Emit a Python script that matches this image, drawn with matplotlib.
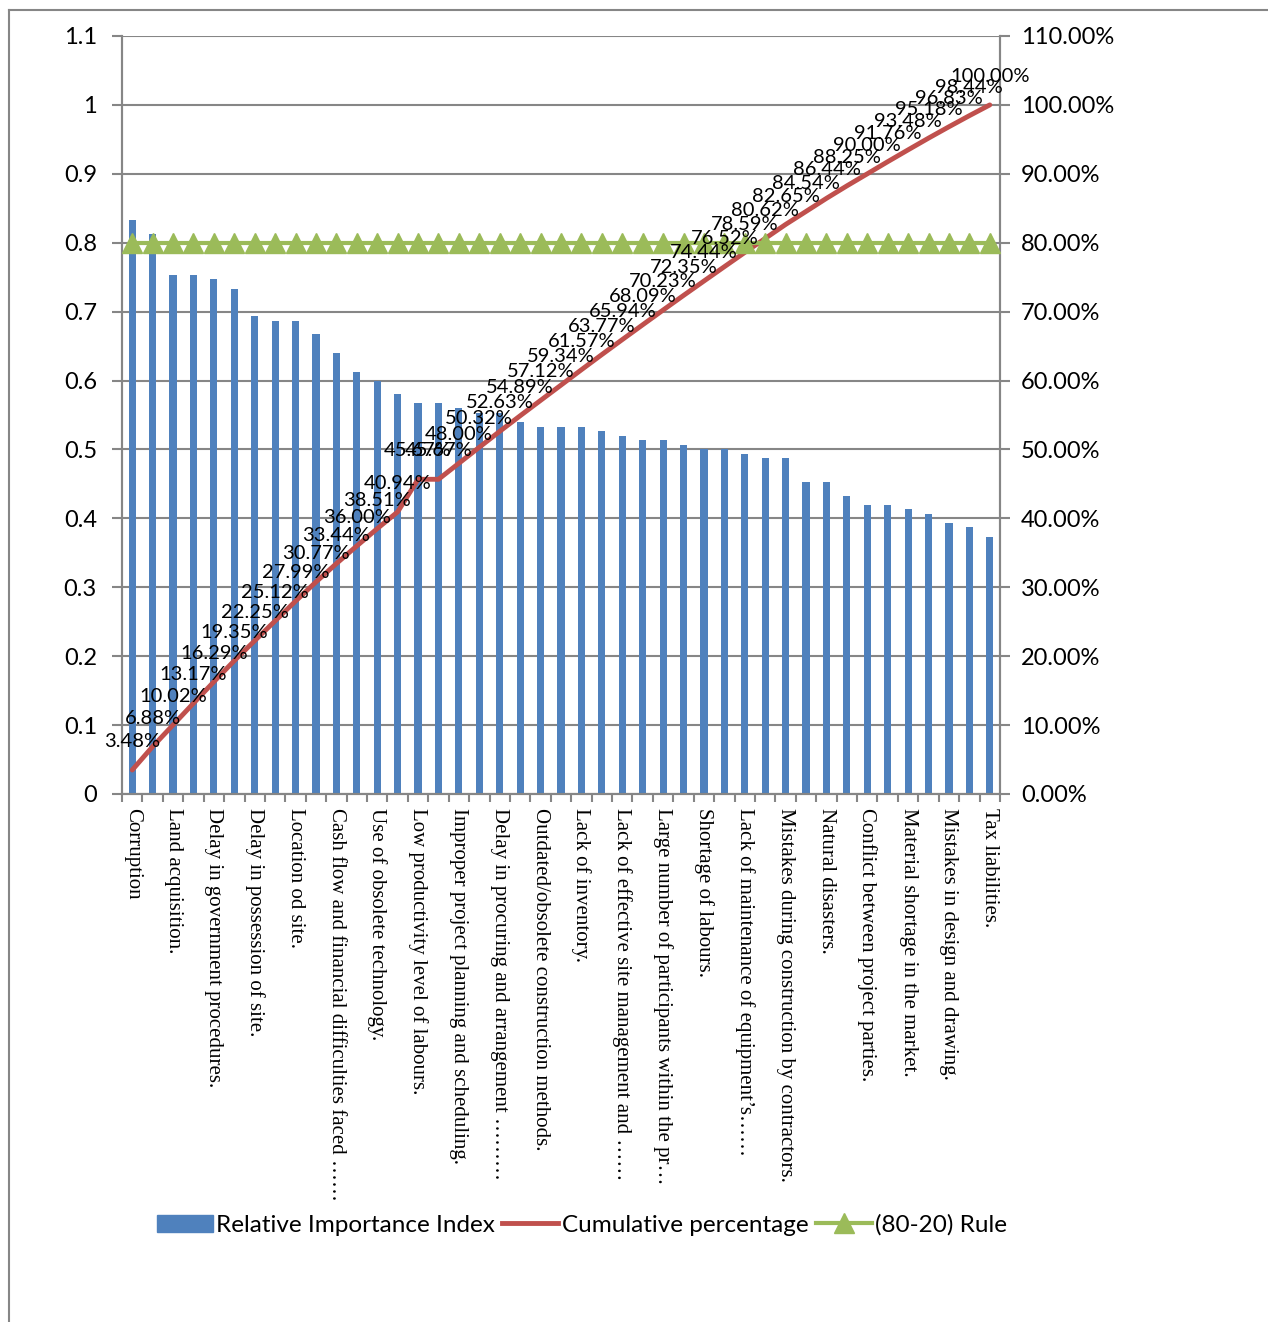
import matplotlib
matplotlib.use("Agg")
import matplotlib.pyplot as plt
from matplotlib.lines import Line2D
from matplotlib.patches import Patch
from matplotlib.ticker import FuncFormatter, FixedLocator

plt.rcParams['font.family'] = ['Lato', 'DejaVu Sans']

# Índice de importancia relativa (RII) por factor, ordenado de mayor a menor
rii = [0.833, 0.813, 0.753, 0.753, 0.747, 0.733, 0.693, 0.687, 0.687, 0.667,
       0.640, 0.613, 0.600, 0.580, 0.567, 0.567, 0.560, 0.553, 0.553, 0.540,
       0.533, 0.533, 0.533, 0.527, 0.520, 0.513, 0.513, 0.507, 0.500, 0.500,
       0.493, 0.487, 0.487, 0.453, 0.453, 0.433, 0.420, 0.420, 0.413, 0.407,
       0.393, 0.387, 0.373]

# Porcentaje acumulado (tal como aparece en las etiquetas)
acumulado = [3.48, 6.88, 10.02, 13.17, 16.29, 19.35, 22.25, 25.12, 27.99, 30.77,
             33.44, 36.00, 38.51, 40.94, 45.67, 45.67, 48.00, 50.32, 52.63, 54.89,
             57.12, 59.34, 61.57, 63.77, 65.94, 68.09, 70.23, 72.35, 74.44, 76.52,
             78.59, 80.62, 82.65, 84.54, 86.44, 88.25, 90.00, 91.76, 93.48, 95.18,
             96.83, 98.44, 100.00]

# Línea de la regla 80-20
regla = [80.0] * len(rii)

# Etiquetas visibles del eje x (una de cada dos categorías)
etiquetas = ["Corruption", "Land acquisition.", "Delay in government procedures.",
             "Delay in possession of site.", "Location od site.",
             "Cash flow and financial difficulties faced \u2026\u2026",
             "Use of obsolete technology.", "Low productivity level of labours.",
             "Improper project planning and scheduling.",
             "Delay in procuring and arrangement \u2026\u2026\u2026",
             "Outdated/obsolete construction methods.", "Lack of inventory.",
             "Lack of effective site management and \u2026\u2026",
             "Large number of participants within the pr\u2026",
             "Shortage of labours.", "Lack of maintenance of equipment\u2019s\u2026\u2026",
             "Mistakes during construction by contractors.", "Natural disasters.",
             "Conflict between project parties.", "Material shortage in the market.",
             "Mistakes in design and drawing.", "Tax liabilities."]

azul = '#4F81BD'
rojo = '#C0504D'
verde = '#9BBB59'
gris = '#868686'

W, H = 1268, 1322
fig = plt.figure(figsize=(W / 100, H / 100), dpi=100)
ax = fig.add_axes([122 / W, 1 - 794 / H, (1000 - 122) / W, (794 - 36) / H])
ax2 = ax.twinx()

x = list(range(len(rii)))
ax.bar(x, rii, width=0.35, color=azul, zorder=2)
ax.set_xlim(-0.5, len(rii) - 0.5)
ax.set_ylim(0, 1.1)
ax.set_yticks([i / 10 for i in range(12)])
ax.yaxis.set_major_formatter(FuncFormatter(lambda v, p: f"{round(v, 2):g}"))
ax.yaxis.grid(True, color=gris, lw=1.5)
ax.set_axisbelow(True)

ax2.set_ylim(0, 110)
ax2.set_yticks(range(0, 111, 10))
ax2.yaxis.set_major_formatter(FuncFormatter(lambda v, p: f"{v:.2f}%"))

ax2.plot(x, acumulado, color=rojo, lw=3.5, zorder=3, solid_capstyle='round')
ax2.plot(x, regla, color=verde, lw=3, marker='^', markersize=14,
         markeredgecolor=verde, zorder=4)

for i, v in enumerate(acumulado):
    ax2.annotate(f"{v:.2f}%", (i, v), xytext=(0, 16.5), textcoords='offset points',
                 ha='center', va='baseline', fontsize=14.5, zorder=6)

for a in (ax, ax2):
    for s in a.spines.values():
        s.set_color(gris)
        s.set_linewidth(1.5)
    a.spines['top'].set_visible(False)

ax.tick_params(axis='y', direction='out', length=7, width=1.5, color=gris,
               labelsize=17, pad=11)
ax2.tick_params(axis='y', direction='out', length=7, width=1.5, color=gris,
                labelsize=17, pad=8)

# categorías: marcas en los límites, etiquetas en cada dos
ax.set_xticks(range(0, len(rii), 2))
ax.set_xticklabels(etiquetas, rotation=270, family='Liberation Serif',
                   fontsize=15, va='top', ha='center')
ax.xaxis.set_minor_locator(FixedLocator([i - 0.5 for i in range(len(rii) + 1)]))
ax.tick_params(axis='x', which='major', length=0, pad=10)
ax.tick_params(axis='x', which='minor', length=6, width=1.5, color=gris)

handles = [Patch(color=azul),
           Line2D([], [], color=rojo, lw=3.5),
           Line2D([], [], color=verde, lw=3, marker='^', markersize=14)]
nombres = ["Relative Importance Index", "Cumulative percentage", "(80-20) Rule"]
fig.legend(handles, nombres, loc='center', bbox_to_anchor=(582 / W, 1 - 1225 / H),
           ncol=3, frameon=False, fontsize=17.5, handlelength=2.3,
           handletextpad=0.15, columnspacing=0.3)

# marco exterior
fig.add_artist(Line2D([8.5 / W, 8.5 / W], [0, 1 - 9.5 / H], color=gris, lw=1.5))
fig.add_artist(Line2D([8.5 / W, 1], [1 - 9.5 / H, 1 - 9.5 / H], color=gris, lw=1.5))

plt.savefig("out.png", dpi=100)
plt.close(fig)
